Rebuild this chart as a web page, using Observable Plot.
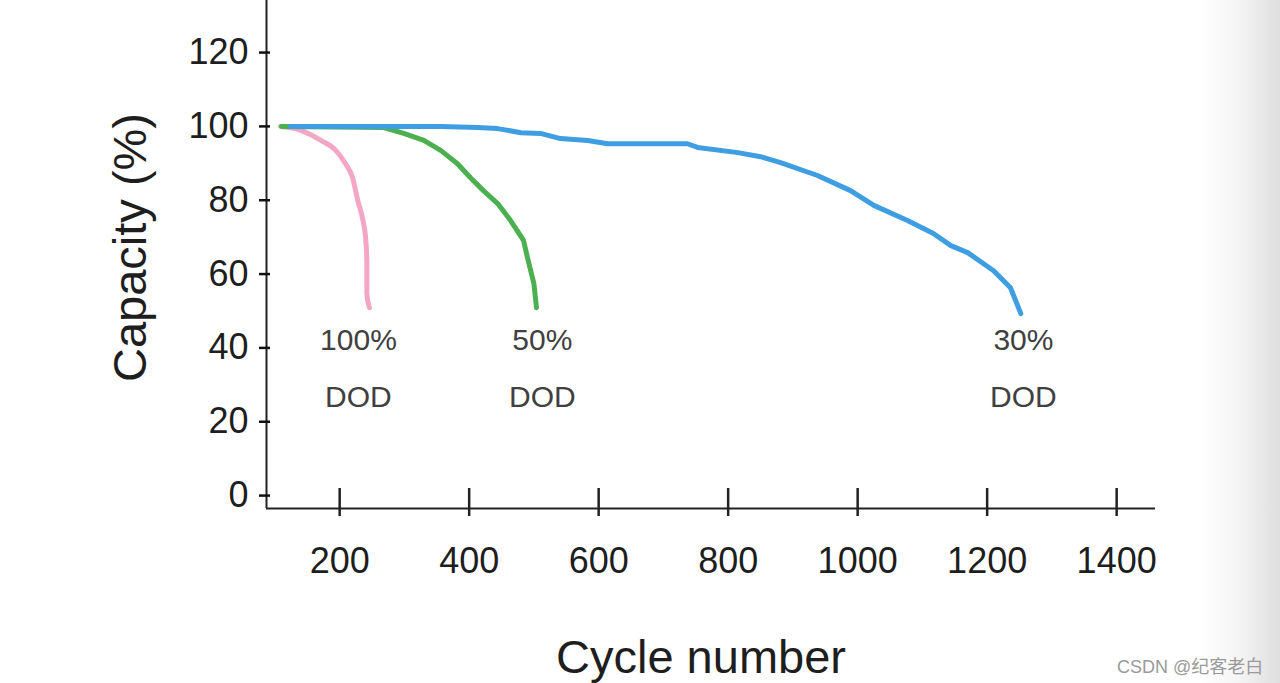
<!DOCTYPE html>
<html>
<head>
<meta charset="utf-8">
<script src="https://cdn.jsdelivr.net/npm/d3@7"></script>
<script src="https://cdn.jsdelivr.net/npm/@observablehq/plot@0.6"></script>
<style>
  html, body { margin: 0; padding: 0; }
  body {
    width: 1280px; height: 683px; overflow: hidden; position: relative;
    background: linear-gradient(to right, #ffffff 0px, #ffffff 1200px, #f4f4f4 1240px, #dedede 1280px);
    font-family: "Liberation Sans", Arial, sans-serif;
  }
  #wm {
    position: absolute; left: 1117px; top: 652px;
    font-family: "Liberation Sans", "Noto Sans CJK SC", sans-serif;
    font-size: 18px; color: #9a9a9a; white-space: nowrap;
  }
</style>
</head>
<body>
<div id="chart"></div>
<div id="wm">CSDN @纪客老白</div>
<script>
// ---- data ----
const pinkCycles  = [109, 140, 171, 194, 209, 220, 228, 236, 240, 242, 242, 246];
const pinkCap     = [100, 98.9, 96.2, 93.5, 89.9, 86.1, 79.9, 74.5, 69.9, 63.7, 54.7, 50.9];

const greenCycles = [110, 268, 299, 330, 356, 382, 402, 422, 444, 464, 484, 490, 500, 504];
const greenCap    = [100, 99.7, 98.1, 96.2, 93.5, 89.9, 86.1, 82.6, 79.1, 74.5, 69.1, 64.5, 57.4, 50.9];

const blueCycles  = [124, 356, 413, 444, 480, 510, 541, 583, 614, 737, 753, 815, 850, 881, 938, 989, 1025, 1077, 1117, 1144, 1170, 1210, 1236, 1252];
const blueCap     = [100, 100, 99.7, 99.4, 98.3, 98.1, 96.7, 96.2, 95.3, 95.3, 94.3, 92.9, 91.8, 90.2, 86.7, 82.6, 78.6, 74.5, 71.0, 67.7, 65.8, 60.9, 56.3, 49.3];

const labelCycles = [229, 513, 1256];
const labelTop    = ["100%", "50%", "30%"];
const labelBottom = ["DOD", "DOD", "DOD"];
const labelTopY = 42;
const labelBottomY = 26.5;

const xTicks = [200, 400, 600, 800, 1000, 1200, 1400];
const yTicks = [0, 20, 40, 60, 80, 100, 120];
const xDomain = [87, 1460];
const yDomain = [-3.5, 134.1];

const xTitle = "Cycle number";
const yTitle = "Capacity (%)";

// ---- build ----
const mk = (name, xs, ys) => xs.map((x, i) => ({series: name, cycle: x, cap: ys[i]}));
const pink = mk("100%", pinkCycles, pinkCap);
const green = mk("50%", greenCycles, greenCap);
const blue = mk("30%", blueCycles, blueCap);
const labels = labelCycles.map((c, i) => ({cycle: c, top: labelTop[i], bottom: labelBottom[i]}));

const chart = Plot.plot({
  width: 1280,
  height: 683,
  marginLeft: 266,
  marginRight: 125,
  marginTop: 0,
  marginBottom: 175,
  style: {background: "transparent", color: "#1e1e1e", fontSize: "36px", fontFamily: "'Liberation Sans', Arial, sans-serif", overflow: "visible"},
  x: {domain: xDomain, ticks: xTicks, tickSize: 0, tickPadding: 39, label: null, tickFormat: d => String(d)},
  y: {domain: yDomain, ticks: yTicks, tickSize: 0, tickPadding: 18, label: null, tickFormat: d => String(d)},
  marks: [
    Plot.ruleY([yDomain[0]], {stroke: "#222", strokeWidth: 2}),
    Plot.ruleX([xDomain[0]], {stroke: "#222", strokeWidth: 2}),
    Plot.ruleX(xTicks, {x: d => d, y1: yDomain[0], y2: yDomain[0], insetTop: -20, insetBottom: -8, stroke: "#222", strokeWidth: 2.5}),
    Plot.ruleY(yTicks, {y: d => d, x1: xDomain[0], x2: xDomain[0], insetLeft: -7, insetRight: -4, stroke: "#111", strokeWidth: 2.5}),
    Plot.line(pink, {x: "cycle", y: "cap", stroke: "#f4a7c5", strokeWidth: 5, curve: "monotone-x"}),
    Plot.line(green, {x: "cycle", y: "cap", stroke: "#4caf50", strokeWidth: 5}),
    Plot.line(blue, {x: "cycle", y: "cap", stroke: "#3f9ee2", strokeWidth: 5}),
    Plot.text(labels, {x: "cycle", y: () => labelTopY, text: "top", fontSize: 30, fill: "#404040", lineAnchor: "middle"}),
    Plot.text(labels, {x: "cycle", y: () => labelBottomY, text: "bottom", fontSize: 30, fill: "#404040", lineAnchor: "middle"}),
    Plot.text([xTitle], {frameAnchor: "bottom", dx: -10, dy: 149, fontSize: 47, fill: "#1e1e1e", lineAnchor: "middle", textAnchor: "middle"}),
    Plot.text([yTitle], {frameAnchor: "left", dx: -136, dy: -7, rotate: -90, fontSize: 47, fill: "#1e1e1e", lineAnchor: "middle", textAnchor: "middle"})
  ]
});
document.getElementById("chart").appendChild(chart);
</script>
</body>
</html>
